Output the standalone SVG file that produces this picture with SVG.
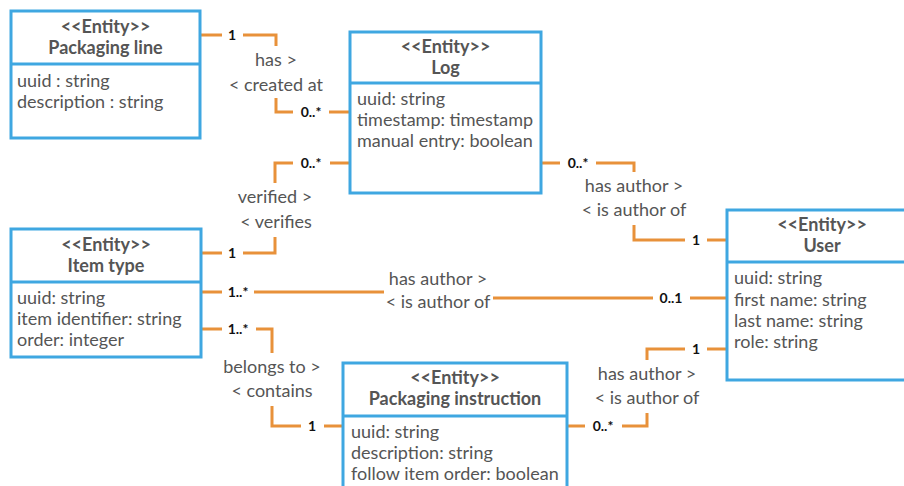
<svg xmlns="http://www.w3.org/2000/svg" width="904" height="486" viewBox="0 0 904 486">
<style>
.box{fill:#fff;stroke:#3FA7E1;stroke-width:3}
.div{stroke:#3FA7E1;stroke-width:3;fill:none}
.ent{font-family:Lato,"Liberation Sans",sans-serif;font-weight:bold;font-size:18px;fill:#555;text-anchor:middle}
.attr{font-family:Lato,"Liberation Sans",sans-serif;font-size:18px;fill:#555}
.role{font-family:Lato,"Liberation Sans",sans-serif;font-size:18px;fill:#555;text-anchor:middle}
.mult{font-family:Lato,"Liberation Sans",sans-serif;font-weight:bold;font-size:14px;fill:#111;text-anchor:middle}
.con{fill:none;stroke:#E8913A;stroke-width:3}
</style>
<rect width="904" height="486" fill="#fff"/>
<g id="connectors">
<path class="con" d="M200,35 H222 M243,35 H276 V46 M276,98 V112 H293 M329,112 H350"/>
<path class="con" d="M350,163 H330 M293,163 H275 V183 M275,237 V253 H243 M222,253 H201"/>
<path class="con" d="M201,292 H222 M254,292 H384 M493,298 H653 M690,298 H727"/>
<path class="con" d="M541,163 H560 M596,163 H634 V172 M634,225 V240 H685 M707,240 H727"/>
<path class="con" d="M727,349 H707 M685,349 H647 V360 M647,413 V426 H622 M585,426 H567"/>
<path class="con" d="M201,329 H222 M256,329 H272 V353 M272,406 V426 H301 M324,426 H343"/>
<text class="mult" x="232" y="40">1</text>
<text class="role" x="276" y="66">has &gt;</text>
<text class="role" x="276" y="91">&lt; created at</text>
<text class="mult" x="311" y="117">0..*</text>
<text class="mult" x="311" y="168">0..*</text>
<text class="role" x="275" y="203">verified &gt;</text>
<text class="role" x="276" y="228">&lt; verifies</text>
<text class="mult" x="232" y="258">1</text>
<text class="mult" x="238" y="297">1..*</text>
<text class="role" x="438" y="285">has author &gt;</text>
<text class="role" x="438" y="308">&lt; is author of</text>
<text class="mult" x="671" y="303">0..1</text>
<text class="mult" x="578" y="168">0..*</text>
<text class="role" x="634" y="192">has author &gt;</text>
<text class="role" x="634" y="216">&lt; is author of</text>
<text class="mult" x="696" y="245">1</text>
<text class="mult" x="696" y="354">1</text>
<text class="role" x="647" y="380">has author &gt;</text>
<text class="role" x="647" y="404">&lt; is author of</text>
<text class="mult" x="603" y="431">0..*</text>
<text class="mult" x="238" y="334">1..*</text>
<text class="role" x="272" y="373">belongs to &gt;</text>
<text class="role" x="272" y="397">&lt; contains</text>
<text class="mult" x="312" y="431">1</text>
</g>
<g id="packaging-line">
<rect class="box" x="11" y="11" width="189" height="127"/>
<line class="div" x1="11" y1="64" x2="200" y2="64"/>
<text class="ent" x="105.5" y="33">&lt;&lt;Entity&gt;&gt;</text>
<text class="ent" x="105.5" y="54">Packaging line</text>
<text class="attr" x="17" y="87">uuid : string</text>
<text class="attr" x="17" y="108">description : string</text>
</g>
<g id="log">
<rect class="box" x="350" y="32" width="191" height="161"/>
<line class="div" x1="350" y1="83" x2="541" y2="83"/>
<text class="ent" x="445.5" y="53">&lt;&lt;Entity&gt;&gt;</text>
<text class="ent" x="445.5" y="74">Log</text>
<text class="attr" x="357" y="105">uuid: string</text>
<text class="attr" x="357" y="126">timestamp: timestamp</text>
<text class="attr" x="357" y="147">manual entry: boolean</text>
</g>
<g id="item-type">
<rect class="box" x="11" y="229" width="190" height="128"/>
<line class="div" x1="11" y1="282" x2="201" y2="282"/>
<text class="ent" x="106" y="251">&lt;&lt;Entity&gt;&gt;</text>
<text class="ent" x="106" y="272">Item type</text>
<text class="attr" x="17" y="304">uuid: string</text>
<text class="attr" x="17" y="325">item identifier: string</text>
<text class="attr" x="17" y="346">order: integer</text>
</g>
<g id="user">
<rect class="box" x="727" y="210" width="190" height="170"/>
<line class="div" x1="727" y1="262" x2="917" y2="262"/>
<text class="ent" x="822" y="231">&lt;&lt;Entity&gt;&gt;</text>
<text class="ent" x="822" y="252">User</text>
<text class="attr" x="734" y="284">uuid: string</text>
<text class="attr" x="734" y="306">first name: string</text>
<text class="attr" x="734" y="327">last name: string</text>
<text class="attr" x="734" y="348">role: string</text>
</g>
<g id="packaging-instruction">
<rect class="box" x="343" y="363" width="224" height="140"/>
<line class="div" x1="343" y1="416" x2="567" y2="416"/>
<text class="ent" x="455" y="384">&lt;&lt;Entity&gt;&gt;</text>
<text class="ent" x="455" y="405">Packaging instruction</text>
<text class="attr" x="351" y="438">uuid: string</text>
<text class="attr" x="351" y="459">description: string</text>
<text class="attr" x="351" y="480">follow item order: boolean</text>
</g>
</svg>
